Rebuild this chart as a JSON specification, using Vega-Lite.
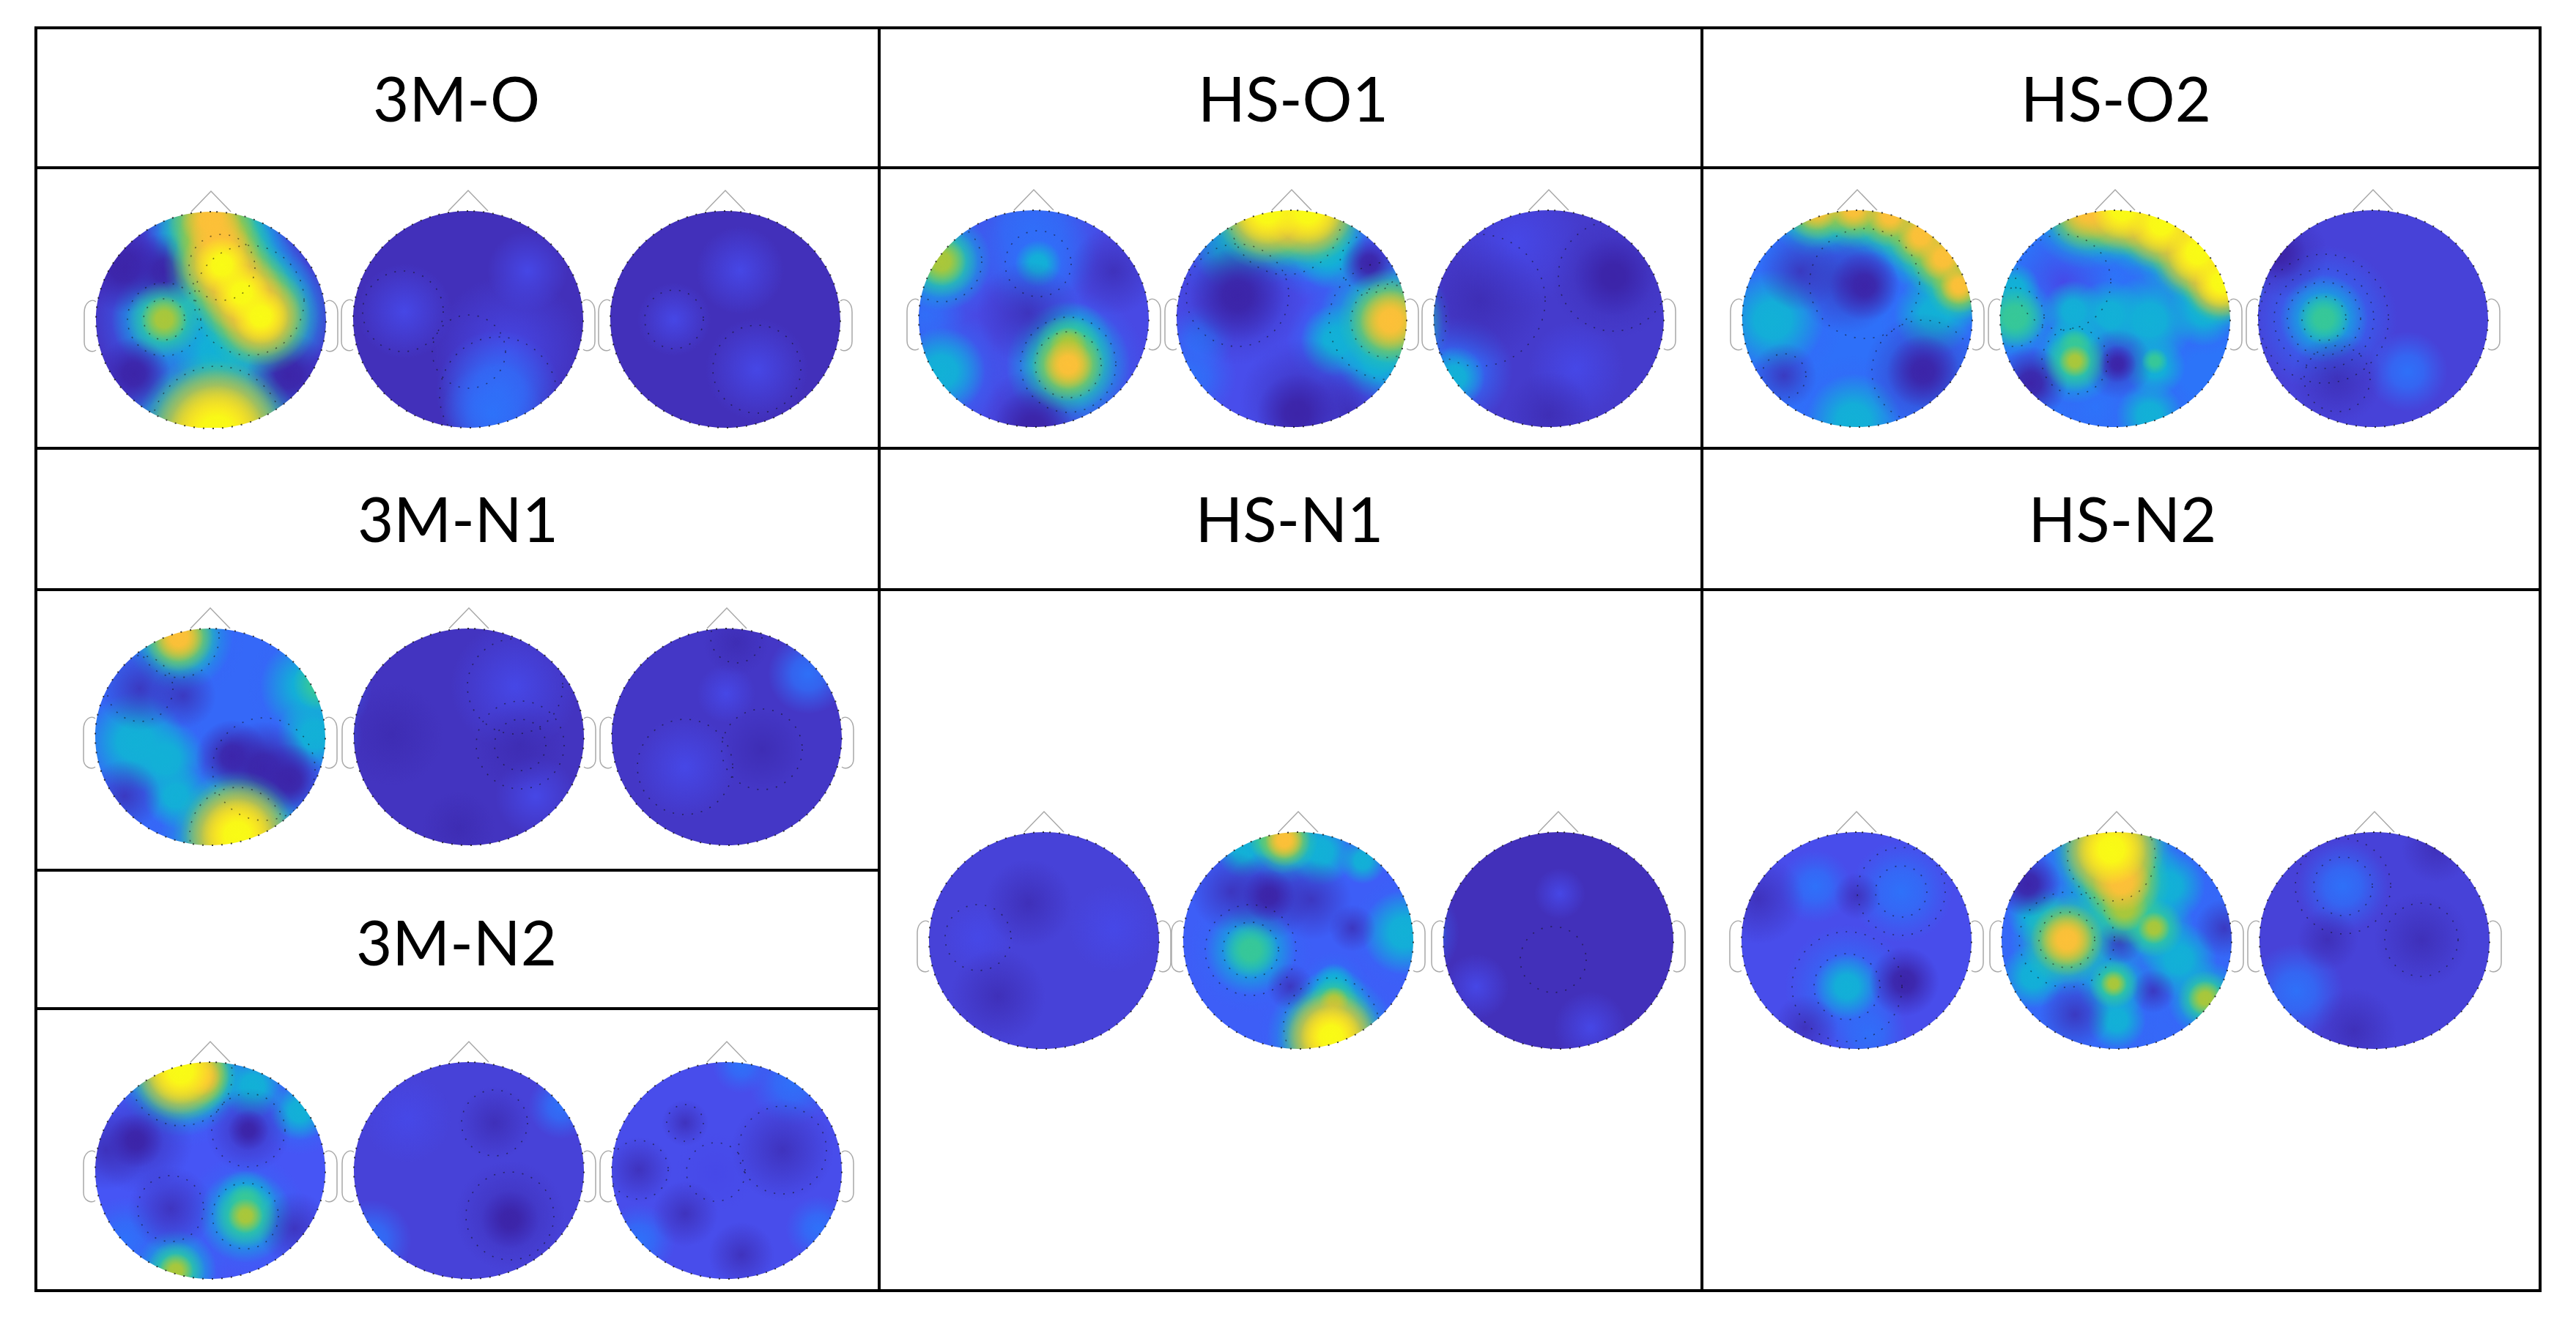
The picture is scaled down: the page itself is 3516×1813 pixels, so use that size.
{"$schema":"https://vega.github.io/schema/vega-lite/v6.json","width":3516,"height":1813,"autosize":{"type":"fit","contains":"padding"},"padding":0,"background":"white","config":{"view":{"stroke":null}},
"datasets":{
"heads":[{"h":1,"x":288,"y":437,"b":0.05},{"h":2,"x":639,"y":436,"b":0.03},{"h":3,"x":990,"y":436,"b":0.03},{"h":4,"x":1411,"y":435,"b":0.1},{"h":5,"x":1763,"y":435,"b":0.11},{"h":6,"x":2114,"y":435,"b":0.06},{"h":7,"x":2535,"y":435,"b":0.19},{"h":8,"x":2887,"y":435,"b":0.2},{"h":9,"x":3239,"y":435,"b":0.08},{"h":10,"x":287,"y":1006,"b":0.17},{"h":11,"x":640,"y":1006,"b":0.04},{"h":12,"x":992,"y":1006,"b":0.05},{"h":13,"x":287,"y":1598,"b":0.13},{"h":14,"x":640,"y":1598,"b":0.08},{"h":15,"x":992,"y":1598,"b":0.11},{"h":16,"x":1425,"y":1284,"b":0.08},{"h":17,"x":1772,"y":1284,"b":0.15},{"h":18,"x":2127,"y":1284,"b":0.03},{"h":19,"x":2534,"y":1284,"b":0.11},{"h":20,"x":2889,"y":1284,"b":0.17},{"h":21,"x":3241,"y":1284,"b":0.08}],
"blobs":[
{"k":"Y","x":303,"y":362,"r":38},{"k":"O","x":303,"y":362,"r":56},{"k":"L","x":303,"y":362,"r":68},{"k":"G","x":303,"y":362,"r":80},{"k":"T","x":303,"y":362,"r":98},{"k":"B","x":303,"y":362,"r":112},
{"k":"Y","x":330,"y":400,"r":38},{"k":"O","x":330,"y":400,"r":56},{"k":"L","x":330,"y":400,"r":68},{"k":"G","x":330,"y":400,"r":80},{"k":"T","x":330,"y":400,"r":98},{"k":"B","x":330,"y":400,"r":112},
{"k":"Y","x":356,"y":432,"r":38},{"k":"O","x":356,"y":432,"r":56},{"k":"L","x":356,"y":432,"r":68},{"k":"G","x":356,"y":432,"r":80},{"k":"T","x":356,"y":432,"r":95},{"k":"B","x":356,"y":432,"r":110},
{"k":"O","x":288,"y":300,"r":42},{"k":"L","x":288,"y":300,"r":60},{"k":"G","x":288,"y":300,"r":74},{"k":"T","x":288,"y":300,"r":92},{"k":"B","x":288,"y":300,"r":110},
{"k":"O","x":298,"y":330,"r":42},{"k":"L","x":298,"y":330,"r":58},{"k":"G","x":298,"y":330,"r":72},{"k":"T","x":298,"y":330,"r":88},{"k":"B","x":298,"y":330,"r":105},
{"k":"Y","x":296,"y":592,"r":66},{"k":"O","x":296,"y":592,"r":88},{"k":"L","x":296,"y":592,"r":100},{"k":"G","x":296,"y":592,"r":112},{"k":"T","x":296,"y":592,"r":135},{"k":"B","x":296,"y":592,"r":155},
{"k":"T","x":296,"y":480,"r":60},{"k":"B","x":296,"y":480,"r":90},{"k":"B","x":281,"y":440,"r":60},
{"k":"L","x":224,"y":436,"r":32},{"k":"G","x":224,"y":436,"r":52},{"k":"T","x":224,"y":436,"r":72},{"k":"B","x":224,"y":436,"r":95},
{"k":"D","x":170,"y":365,"r":62},{"k":"D","x":225,"y":370,"r":52},{"k":"D","x":183,"y":510,"r":50},{"k":"D","x":394,"y":512,"r":58},
{"k":"I","x":695,"y":481,"r":105},{"k":"I","x":552,"y":425,"r":65},{"k":"I","x":720,"y":370,"r":55},{"k":"B","x":680,"y":535,"r":85},{"k":"B","x":672,"y":565,"r":70},
{"k":"I","x":1033,"y":504,"r":70},{"k":"I","x":1010,"y":369,"r":60},{"k":"I","x":920,"y":436,"r":50},
{"k":"W","x":1410,"y":573,"r":70},{"k":"D","x":1410,"y":585,"r":55},{"k":"W","x":1520,"y":370,"r":60},{"k":"W","x":1403,"y":427,"r":70},{"k":"B","x":1410,"y":313,"r":100},{"k":"B","x":1263,"y":430,"r":55},{"k":"T","x":1417,"y":360,"r":32},{"k":"B","x":1417,"y":360,"r":80},
{"k":"T","x":1285,"y":507,"r":60},{"k":"B","x":1285,"y":507,"r":90},
{"k":"L","x":1285,"y":357,"r":34},{"k":"G","x":1285,"y":357,"r":50},{"k":"T","x":1285,"y":357,"r":68},{"k":"B","x":1285,"y":357,"r":88},
{"k":"O","x":1458,"y":498,"r":34},{"k":"L","x":1458,"y":498,"r":50},{"k":"G","x":1458,"y":498,"r":66},{"k":"T","x":1458,"y":498,"r":85},{"k":"B","x":1458,"y":498,"r":105},
{"k":"L","x":1458,"y":472,"r":26},{"k":"G","x":1458,"y":472,"r":44},{"k":"T","x":1458,"y":472,"r":62},
{"k":"Y","x":1730,"y":288,"r":46},{"k":"O","x":1730,"y":288,"r":62},{"k":"L","x":1730,"y":288,"r":72},{"k":"G","x":1730,"y":288,"r":82},{"k":"T","x":1730,"y":288,"r":98},{"k":"B","x":1730,"y":288,"r":115},
{"k":"Y","x":1785,"y":288,"r":46},{"k":"O","x":1785,"y":288,"r":62},{"k":"L","x":1785,"y":288,"r":72},{"k":"G","x":1785,"y":288,"r":82},{"k":"T","x":1785,"y":288,"r":98},{"k":"B","x":1785,"y":288,"r":115},
{"k":"T","x":1815,"y":345,"r":50},{"k":"B","x":1815,"y":345,"r":75},{"k":"T","x":1680,"y":345,"r":50},{"k":"B","x":1680,"y":345,"r":75},
{"k":"O","x":1898,"y":438,"r":42},{"k":"L","x":1898,"y":438,"r":58},{"k":"G","x":1898,"y":438,"r":72},{"k":"T","x":1890,"y":438,"r":90},{"k":"B","x":1880,"y":438,"r":102},
{"k":"T","x":1825,"y":465,"r":50},{"k":"B","x":1825,"y":465,"r":70},{"k":"T","x":1880,"y":490,"r":55},{"k":"B","x":1880,"y":490,"r":70},{"k":"B","x":1623,"y":513,"r":65},{"k":"B","x":1640,"y":460,"r":45},
{"k":"W","x":1689,"y":403,"r":95},{"k":"D","x":1689,"y":403,"r":65},{"k":"D","x":1869,"y":360,"r":38},{"k":"W","x":1777,"y":547,"r":85},{"k":"W","x":1840,"y":560,"r":60},{"k":"D","x":1770,"y":565,"r":55},
{"k":"W","x":2202,"y":377,"r":85},{"k":"W","x":2019,"y":410,"r":85},{"k":"D","x":2202,"y":377,"r":55},{"k":"W","x":2114,"y":567,"r":60},{"k":"I","x":2070,"y":330,"r":90},{"k":"I","x":2151,"y":503,"r":65},{"k":"B","x":1990,"y":507,"r":75},{"k":"T","x":1985,"y":515,"r":42},
{"k":"D","x":2545,"y":390,"r":48},{"k":"W","x":2520,"y":385,"r":70},{"k":"W","x":2457,"y":370,"r":55},{"k":"W","x":2625,"y":507,"r":80},{"k":"D","x":2625,"y":507,"r":50},{"k":"W","x":2435,"y":513,"r":45},
{"k":"T","x":2420,"y":437,"r":70},{"k":"B","x":2420,"y":437,"r":95},{"k":"T","x":2640,"y":430,"r":55},{"k":"B","x":2640,"y":430,"r":75},{"k":"T","x":2530,"y":575,"r":65},{"k":"B","x":2530,"y":575,"r":90},
{"k":"O","x":2480,"y":283,"r":32},{"k":"L","x":2480,"y":283,"r":45},{"k":"G","x":2480,"y":283,"r":57},{"k":"T","x":2480,"y":283,"r":70},{"k":"B","x":2480,"y":283,"r":85},
{"k":"O","x":2530,"y":283,"r":32},{"k":"L","x":2530,"y":283,"r":45},{"k":"G","x":2530,"y":283,"r":57},{"k":"T","x":2530,"y":283,"r":70},{"k":"B","x":2530,"y":283,"r":85},
{"k":"O","x":2580,"y":293,"r":32},{"k":"L","x":2580,"y":293,"r":45},{"k":"G","x":2580,"y":293,"r":57},{"k":"T","x":2580,"y":293,"r":70},{"k":"B","x":2580,"y":293,"r":85},
{"k":"O","x":2622,"y":322,"r":32},{"k":"L","x":2622,"y":322,"r":45},{"k":"G","x":2622,"y":322,"r":57},{"k":"T","x":2622,"y":322,"r":70},{"k":"B","x":2622,"y":322,"r":85},
{"k":"O","x":2652,"y":352,"r":32},{"k":"L","x":2652,"y":352,"r":45},{"k":"G","x":2652,"y":352,"r":57},{"k":"T","x":2652,"y":352,"r":70},{"k":"B","x":2652,"y":352,"r":80},
{"k":"O","x":2674,"y":390,"r":26},{"k":"L","x":2674,"y":390,"r":38},{"k":"G","x":2674,"y":390,"r":47},{"k":"T","x":2674,"y":390,"r":58},{"k":"B","x":2670,"y":390,"r":65},
{"k":"O","x":2850,"y":285,"r":44},{"k":"L","x":2850,"y":285,"r":58},{"k":"G","x":2850,"y":285,"r":68},{"k":"T","x":2850,"y":285,"r":83},{"k":"B","x":2850,"y":285,"r":95},
{"k":"Y","x":2897,"y":285,"r":42},{"k":"O","x":2897,"y":285,"r":56},{"k":"L","x":2897,"y":285,"r":64},{"k":"G","x":2897,"y":285,"r":70},{"k":"T","x":2897,"y":285,"r":84},{"k":"B","x":2897,"y":285,"r":95},
{"k":"Y","x":2950,"y":305,"r":42},{"k":"O","x":2950,"y":305,"r":56},{"k":"L","x":2950,"y":305,"r":64},{"k":"G","x":2950,"y":305,"r":70},{"k":"T","x":2950,"y":305,"r":84},{"k":"B","x":2950,"y":305,"r":95},
{"k":"Y","x":3000,"y":345,"r":42},{"k":"O","x":3000,"y":345,"r":56},{"k":"L","x":3000,"y":345,"r":64},{"k":"G","x":3000,"y":345,"r":70},{"k":"T","x":3000,"y":345,"r":84},{"k":"B","x":3000,"y":345,"r":95},
{"k":"Y","x":3032,"y":385,"r":36},{"k":"O","x":3032,"y":385,"r":48},{"k":"L","x":3032,"y":385,"r":54},{"k":"G","x":3032,"y":385,"r":60},{"k":"T","x":3025,"y":385,"r":68},{"k":"B","x":3020,"y":385,"r":75},
{"k":"G","x":2750,"y":433,"r":42},{"k":"T","x":2750,"y":433,"r":55},{"k":"B","x":2750,"y":433,"r":70},{"k":"L","x":2832,"y":493,"r":22},{"k":"G","x":2832,"y":493,"r":42},{"k":"T","x":2832,"y":493,"r":58},{"k":"B","x":2832,"y":493,"r":72},{"k":"G","x":2832,"y":470,"r":22},{"k":"T","x":2832,"y":470,"r":42},
{"k":"T","x":2934,"y":437,"r":62},{"k":"B","x":2934,"y":437,"r":80},{"k":"T","x":3007,"y":425,"r":48},{"k":"B","x":3007,"y":425,"r":60},{"k":"T","x":2830,"y":425,"r":42},{"k":"T","x":2941,"y":500,"r":42},{"k":"G","x":2941,"y":493,"r":18},{"k":"T","x":2934,"y":567,"r":46},{"k":"B","x":2934,"y":567,"r":65},{"k":"T","x":2750,"y":393,"r":34},{"k":"T","x":2880,"y":430,"r":48},{"k":"B","x":2860,"y":555,"r":60},
{"k":"W","x":2890,"y":497,"r":48},{"k":"D","x":2890,"y":497,"r":26},{"k":"D","x":2772,"y":523,"r":50},{"k":"I","x":2816,"y":385,"r":70},
{"k":"W","x":3190,"y":517,"r":62},{"k":"W","x":3117,"y":347,"r":60},{"k":"D","x":3110,"y":345,"r":38},{"k":"B","x":3286,"y":507,"r":55},{"k":"G","x":3172,"y":435,"r":36},{"k":"T","x":3172,"y":435,"r":60},{"k":"B","x":3172,"y":435,"r":100},
{"k":"D","x":317,"y":1033,"r":50},{"k":"D","x":360,"y":1050,"r":65},{"k":"D","x":395,"y":1065,"r":50},{"k":"W","x":191,"y":940,"r":58},{"k":"W","x":250,"y":950,"r":45},{"k":"W","x":170,"y":1087,"r":50},
{"k":"T","x":184,"y":1013,"r":68},{"k":"B","x":184,"y":1013,"r":90},{"k":"T","x":226,"y":1037,"r":55},{"k":"B","x":226,"y":1037,"r":70},{"k":"T","x":240,"y":1087,"r":44},{"k":"B","x":240,"y":1087,"r":60},{"k":"T","x":423,"y":937,"r":68},{"k":"B","x":423,"y":937,"r":85},{"k":"T","x":430,"y":1003,"r":52},{"k":"B","x":430,"y":1003,"r":65},{"k":"G","x":438,"y":933,"r":38},
{"k":"O","x":244,"y":870,"r":34},{"k":"L","x":244,"y":870,"r":47},{"k":"G","x":244,"y":870,"r":58},{"k":"T","x":244,"y":870,"r":74},{"k":"B","x":244,"y":870,"r":90},
{"k":"Y","x":324,"y":1140,"r":50},{"k":"O","x":324,"y":1140,"r":70},{"k":"L","x":324,"y":1140,"r":78},{"k":"G","x":324,"y":1140,"r":88},{"k":"T","x":324,"y":1140,"r":105},{"k":"B","x":324,"y":1140,"r":120},
{"k":"W","x":710,"y":1017,"r":60},{"k":"W","x":535,"y":1003,"r":70},{"k":"W","x":626,"y":1130,"r":50},{"k":"I","x":703,"y":937,"r":88},{"k":"I","x":731,"y":1087,"r":55},
{"k":"W","x":1040,"y":1023,"r":55},{"k":"W","x":1005,"y":877,"r":45},{"k":"I","x":935,"y":1047,"r":70},{"k":"I","x":991,"y":947,"r":40},{"k":"B","x":1103,"y":920,"r":55},
{"k":"Y","x":247,"y":1462,"r":46},{"k":"O","x":247,"y":1462,"r":60},{"k":"L","x":247,"y":1462,"r":68},{"k":"G","x":247,"y":1462,"r":76},{"k":"T","x":247,"y":1462,"r":90},{"k":"B","x":247,"y":1462,"r":105},
{"k":"O","x":275,"y":1470,"r":26},{"k":"L","x":275,"y":1470,"r":38},{"k":"G","x":275,"y":1470,"r":47},{"k":"T","x":275,"y":1470,"r":58},{"k":"B","x":275,"y":1470,"r":72},
{"k":"T","x":409,"y":1517,"r":40},{"k":"B","x":409,"y":1517,"r":60},{"k":"T","x":345,"y":1483,"r":44},{"k":"B","x":345,"y":1483,"r":60},
{"k":"L","x":335,"y":1660,"r":24},{"k":"G","x":335,"y":1660,"r":44},{"k":"T","x":335,"y":1660,"r":64},{"k":"B","x":335,"y":1660,"r":85},{"k":"G","x":335,"y":1640,"r":24},{"k":"T","x":335,"y":1640,"r":42},
{"k":"L","x":240,"y":1735,"r":24},{"k":"G","x":240,"y":1735,"r":40},{"k":"T","x":240,"y":1735,"r":56},{"k":"B","x":240,"y":1735,"r":72},{"k":"B","x":170,"y":1693,"r":60},
{"k":"W","x":191,"y":1557,"r":72},{"k":"W","x":145,"y":1570,"r":55},{"k":"D","x":185,"y":1557,"r":38},{"k":"W","x":339,"y":1543,"r":58},{"k":"D","x":339,"y":1543,"r":28},{"k":"W","x":233,"y":1650,"r":58},{"k":"W","x":402,"y":1677,"r":50},
{"k":"W","x":696,"y":1660,"r":75},{"k":"D","x":696,"y":1665,"r":40},{"k":"W","x":675,"y":1533,"r":50},{"k":"I","x":556,"y":1527,"r":60},{"k":"B","x":766,"y":1510,"r":45},{"k":"B","x":507,"y":1693,"r":55},
{"k":"W","x":1068,"y":1570,"r":70},{"k":"W","x":872,"y":1597,"r":45},{"k":"W","x":935,"y":1533,"r":32},{"k":"W","x":935,"y":1657,"r":45},{"k":"W","x":1012,"y":1713,"r":45},{"k":"I","x":977,"y":1600,"r":55},{"k":"B","x":1082,"y":1477,"r":60},{"k":"B","x":872,"y":1693,"r":50},{"k":"B","x":1117,"y":1677,"r":45},{"k":"B","x":1012,"y":1453,"r":40},
{"k":"W","x":1404,"y":1233,"r":60},{"k":"W","x":1362,"y":1360,"r":65},{"k":"I","x":1335,"y":1280,"r":50},{"k":"I","x":1520,"y":1267,"r":60},
{"k":"O","x":1753,"y":1147,"r":26},{"k":"L","x":1753,"y":1147,"r":36},{"k":"G","x":1753,"y":1147,"r":46},{"k":"T","x":1753,"y":1147,"r":60},{"k":"B","x":1753,"y":1147,"r":75},
{"k":"G","x":1730,"y":1145,"r":28},{"k":"T","x":1803,"y":1163,"r":46},{"k":"B","x":1803,"y":1163,"r":60},{"k":"T","x":1697,"y":1163,"r":36},{"k":"B","x":1697,"y":1163,"r":50},{"k":"T","x":1860,"y":1175,"r":32},
{"k":"Y","x":1817,"y":1415,"r":42},{"k":"O","x":1817,"y":1415,"r":60},{"k":"L","x":1817,"y":1415,"r":68},{"k":"G","x":1817,"y":1415,"r":74},{"k":"T","x":1817,"y":1415,"r":88},{"k":"B","x":1817,"y":1415,"r":100},
{"k":"L","x":1821,"y":1367,"r":20},{"k":"G","x":1821,"y":1367,"r":33},{"k":"T","x":1821,"y":1367,"r":48},{"k":"B","x":1821,"y":1367,"r":60},{"k":"T","x":1821,"y":1343,"r":28},{"k":"B","x":1821,"y":1343,"r":45},
{"k":"G","x":1707,"y":1297,"r":38},{"k":"T","x":1707,"y":1297,"r":62},{"k":"B","x":1707,"y":1297,"r":85},{"k":"T","x":1917,"y":1273,"r":58},{"k":"B","x":1917,"y":1273,"r":75},
{"k":"W","x":1732,"y":1223,"r":60},{"k":"D","x":1732,"y":1223,"r":36},{"k":"W","x":1680,"y":1217,"r":55},{"k":"W","x":1790,"y":1228,"r":55},{"k":"W","x":1846,"y":1267,"r":32},{"k":"W","x":1761,"y":1347,"r":32},
{"k":"I","x":2171,"y":1403,"r":50},{"k":"I","x":2015,"y":1347,"r":45},{"k":"I","x":2129,"y":1220,"r":35},
{"k":"D","x":2599,"y":1340,"r":48},{"k":"W","x":2400,"y":1227,"r":62},{"k":"W","x":2464,"y":1403,"r":45},{"k":"W","x":2535,"y":1223,"r":32},{"k":"B","x":2595,"y":1217,"r":70},{"k":"B","x":2478,"y":1210,"r":50},{"k":"B","x":2549,"y":1410,"r":55},{"k":"T","x":2521,"y":1347,"r":45},{"k":"B","x":2521,"y":1347,"r":85},
{"k":"Y","x":2882,"y":1160,"r":48},{"k":"O","x":2882,"y":1160,"r":64},{"k":"L","x":2882,"y":1160,"r":72},{"k":"G","x":2882,"y":1160,"r":80},{"k":"T","x":2882,"y":1160,"r":96},{"k":"B","x":2882,"y":1160,"r":110},
{"k":"O","x":2896,"y":1205,"r":40},{"k":"L","x":2896,"y":1205,"r":54},{"k":"G","x":2896,"y":1205,"r":66},{"k":"T","x":2896,"y":1205,"r":82},{"k":"B","x":2896,"y":1205,"r":100},
{"k":"L","x":2900,"y":1240,"r":32},{"k":"G","x":2900,"y":1240,"r":50},{"k":"T","x":2900,"y":1240,"r":66},{"k":"B","x":2900,"y":1240,"r":80},{"k":"L","x":2940,"y":1267,"r":22},{"k":"G","x":2940,"y":1267,"r":40},{"k":"T","x":2940,"y":1267,"r":55},{"k":"B","x":2940,"y":1267,"r":65},
{"k":"O","x":2821,"y":1283,"r":36},{"k":"L","x":2821,"y":1283,"r":50},{"k":"G","x":2821,"y":1283,"r":62},{"k":"T","x":2821,"y":1283,"r":78},{"k":"B","x":2821,"y":1283,"r":95},
{"k":"L","x":2885,"y":1343,"r":18},{"k":"G","x":2885,"y":1343,"r":34},{"k":"T","x":2885,"y":1343,"r":50},{"k":"B","x":2885,"y":1343,"r":62},{"k":"L","x":3010,"y":1363,"r":24},{"k":"G","x":3010,"y":1363,"r":38},{"k":"T","x":3010,"y":1363,"r":52},{"k":"B","x":3010,"y":1363,"r":65},
{"k":"T","x":2775,"y":1333,"r":44},{"k":"B","x":2775,"y":1333,"r":65},{"k":"T","x":2974,"y":1310,"r":52},{"k":"B","x":2974,"y":1310,"r":72},{"k":"T","x":2889,"y":1393,"r":40},{"k":"B","x":2889,"y":1393,"r":60},{"k":"T","x":2960,"y":1210,"r":50},{"k":"B","x":2960,"y":1210,"r":75},{"k":"T","x":2780,"y":1250,"r":40},
{"k":"D","x":2768,"y":1207,"r":45},{"k":"W","x":2832,"y":1385,"r":48},{"k":"W","x":2939,"y":1353,"r":30},{"k":"W","x":3036,"y":1267,"r":40},{"k":"W","x":2893,"y":1285,"r":32},
{"k":"W","x":3305,"y":1283,"r":65},{"k":"W","x":3177,"y":1283,"r":42},{"k":"W","x":3213,"y":1407,"r":58},{"k":"W","x":3326,"y":1157,"r":48},{"k":"B","x":3198,"y":1210,"r":62},{"k":"B","x":3134,"y":1353,"r":65}
],
"rings":[{"x":224,"y":436,"r":50},{"x":224,"y":436,"r":28},{"x":303,"y":365,"r":45},{"x":296,"y":590,"r":90},{"x":340,"y":410,"r":75},{"x":680,"y":540,"r":80},{"x":550,"y":425,"r":55},{"x":640,"y":480,"r":50},{"x":920,"y":436,"r":40},{"x":1033,"y":504,"r":60},{"x":1458,"y":498,"r":45},{"x":1458,"y":498,"r":65},{"x":1417,"y":360,"r":45},{"x":1285,"y":357,"r":55},{"x":1755,"y":300,"r":75},{"x":1894,"y":438,"r":50},{"x":1894,"y":438,"r":80},{"x":1689,"y":403,"r":70},{"x":1869,"y":360,"r":40},{"x":2202,"y":377,"r":75},{"x":2019,"y":410,"r":90},{"x":2545,"y":387,"r":75},{"x":2625,"y":507,"r":70},{"x":2435,"y":513,"r":30},{"x":2832,"y":493,"r":45},{"x":2750,"y":433,"r":40},{"x":2816,"y":385,"r":65},{"x":3172,"y":435,"r":30},{"x":3172,"y":435,"r":50},{"x":3172,"y":435,"r":68},{"x":3172,"y":435,"r":88},{"x":3190,"y":517,"r":45},{"x":360,"y":1050,"r":70},{"x":244,"y":870,"r":55},{"x":324,"y":1140,"r":65},{"x":191,"y":940,"r":45},{"x":703,"y":937,"r":65},{"x":710,"y":1017,"r":35},{"x":710,"y":1017,"r":60},{"x":1040,"y":1023,"r":55},{"x":935,"y":1047,"r":65},{"x":1005,"y":870,"r":35},{"x":335,"y":1660,"r":45},{"x":233,"y":1650,"r":45},{"x":339,"y":1543,"r":50},{"x":247,"y":1467,"r":70},{"x":696,"y":1660,"r":60},{"x":675,"y":1533,"r":45},{"x":1068,"y":1570,"r":60},{"x":977,"y":1600,"r":40},{"x":935,"y":1533,"r":25},{"x":872,"y":1597,"r":40},{"x":1335,"y":1280,"r":45},{"x":1707,"y":1297,"r":38},{"x":1707,"y":1297,"r":62},{"x":1817,"y":1400,"r":65},{"x":2120,"y":1310,"r":45},{"x":2595,"y":1217,"r":35},{"x":2595,"y":1217,"r":60},{"x":2521,"y":1347,"r":45},{"x":2521,"y":1347,"r":75},{"x":2821,"y":1283,"r":38},{"x":2821,"y":1283,"r":65},{"x":2882,"y":1170,"r":60},{"x":3198,"y":1210,"r":40},{"x":3198,"y":1210,"r":65},{"x":3305,"y":1283,"r":50}],
"wipes":[{"x":0,"x2":1200,"y":0,"y2":287},{"x":1200,"x2":3516,"y":0,"y2":287},{"x":0,"x2":1200,"y":584,"y2":858},{"x":0,"x2":1200,"y":1154,"y2":1449},{"x":0,"x2":1200,"y":1746,"y2":1813},{"x":1200,"x2":3516,"y":584,"y2":1136},{"x":1200,"x2":3516,"y":1432,"y2":1813},{"x":0,"x2":130,"y":0,"y2":1813},{"x":1150,"x2":1253,"y":0,"y2":1813},{"x":2292,"x2":2377,"y":0,"y2":1813},{"x":3408,"x2":3516,"y":0,"y2":1813}],
"lines":[{"x":49,"x2":3467,"y":38,"y2":38},{"x":49,"x2":3467,"y":229,"y2":229},{"x":49,"x2":3467,"y":612,"y2":612},{"x":49,"x2":3467,"y":805,"y2":805},{"x":49,"x2":1200,"y":1188,"y2":1188},{"x":49,"x2":1200,"y":1377,"y2":1377},{"x":49,"x2":3467,"y":1762,"y2":1762},{"x":49,"x2":49,"y":38,"y2":1762},{"x":1200,"x2":1200,"y":38,"y2":1762},{"x":2323,"x2":2323,"y":38,"y2":1762},{"x":3467,"x2":3467,"y":38,"y2":1762}],
"titles":[{"t":"3M-O","x":623,"y":140},{"t":"HS-O1","x":1765,"y":140},{"t":"HS-O2","x":2888,"y":140},{"t":"3M-N1","x":625,"y":714},{"t":"HS-N1","x":1760,"y":714},{"t":"HS-N2","x":2897,"y":714},{"t":"3M-N2","x":623,"y":1292}]
},
"encoding":{"x":{"field":"x","type":"quantitative","scale":{"domain":[0,3516]},"axis":null},"y":{"field":"y","type":"quantitative","scale":{"domain":[0,1813],"reverse":true},"axis":null}},
"layer":[
{"data":{"name":"heads"},"mark":{"type":"point","filled":true,"opacity":1,"size":115600},"encoding":{"color":{"field":"b","type":"quantitative","legend":null,"scale":{"domain":[0,0.125,0.25,0.375,0.5,0.625,0.75,1],"range":["#3e26a8","#4852f4","#2d87f7","#12b1d6","#37c897","#abc739","#fdc038","#f9fb15"]}}}},
{"data":{"name":"blobs"},"encoding":{"size":{"field":"r","type":"quantitative","legend":null,"scale":{"type":"pow","exponent":2,"domain":[0,200],"range":[0,160000]}}},"layer":[
{"transform":[{"filter":"datum.k=='I'"}],"mark":{"type":"point","filled":true,"opacity":1,"fill":{"gradient":"radial","x1":0.5,"y1":0.5,"r1":0,"x2":0.5,"y2":0.5,"r2":0.5,"stops":[{"offset":0,"color":"rgba(70,72,232,0.95)"},{"offset":1,"color":"rgba(70,72,232,0)"}]}}},
{"transform":[{"filter":"datum.k=='B'"}],"mark":{"type":"point","filled":true,"opacity":1,"fill":{"gradient":"radial","x1":0.5,"y1":0.5,"r1":0,"x2":0.5,"y2":0.5,"r2":0.5,"stops":[{"offset":0,"color":"rgba(45,115,250,0.95)"},{"offset":0.4,"color":"rgba(48,110,248,0.8)"},{"offset":1,"color":"rgba(55,100,245,0)"}]}}},
{"transform":[{"filter":"datum.k=='T'"}],"mark":{"type":"point","filled":true,"opacity":1,"fill":{"gradient":"radial","x1":0.5,"y1":0.5,"r1":0,"x2":0.5,"y2":0.5,"r2":0.5,"stops":[{"offset":0,"color":"rgba(18,177,214,1)"},{"offset":0.35,"color":"rgba(18,177,214,0.95)"},{"offset":1,"color":"rgba(18,177,214,0)"}]}}},
{"transform":[{"filter":"datum.k=='W'"}],"mark":{"type":"point","filled":true,"opacity":1,"fill":{"gradient":"radial","x1":0.5,"y1":0.5,"r1":0,"x2":0.5,"y2":0.5,"r2":0.5,"stops":[{"offset":0,"color":"rgba(60,42,175,0.75)"},{"offset":1,"color":"rgba(60,42,175,0)"}]}}},
{"transform":[{"filter":"datum.k=='D'"}],"mark":{"type":"point","filled":true,"opacity":1,"fill":{"gradient":"radial","x1":0.5,"y1":0.5,"r1":0,"x2":0.5,"y2":0.5,"r2":0.5,"stops":[{"offset":0,"color":"rgba(60,36,168,1)"},{"offset":0.3,"color":"rgba(60,36,168,0.9)"},{"offset":1,"color":"rgba(60,40,180,0)"}]}}},
{"transform":[{"filter":"datum.k=='G'"}],"mark":{"type":"point","filled":true,"opacity":1,"fill":{"gradient":"radial","x1":0.5,"y1":0.5,"r1":0,"x2":0.5,"y2":0.5,"r2":0.5,"stops":[{"offset":0,"color":"rgba(55,200,151,1)"},{"offset":0.35,"color":"rgba(55,200,151,0.95)"},{"offset":1,"color":"rgba(55,200,151,0)"}]}}},
{"transform":[{"filter":"datum.k=='L'"}],"mark":{"type":"point","filled":true,"opacity":1,"fill":{"gradient":"radial","x1":0.5,"y1":0.5,"r1":0,"x2":0.5,"y2":0.5,"r2":0.5,"stops":[{"offset":0,"color":"rgba(171,199,57,1)"},{"offset":0.35,"color":"rgba(171,199,57,0.95)"},{"offset":1,"color":"rgba(171,199,57,0)"}]}}},
{"transform":[{"filter":"datum.k=='O'"}],"mark":{"type":"point","filled":true,"opacity":1,"fill":{"gradient":"radial","x1":0.5,"y1":0.5,"r1":0,"x2":0.5,"y2":0.5,"r2":0.5,"stops":[{"offset":0,"color":"rgba(253,192,56,1)"},{"offset":0.35,"color":"rgba(253,192,56,0.95)"},{"offset":1,"color":"rgba(253,192,56,0)"}]}}},
{"transform":[{"filter":"datum.k=='Y'"}],"mark":{"type":"point","filled":true,"opacity":1,"fill":{"gradient":"radial","x1":0.5,"y1":0.5,"r1":0,"x2":0.5,"y2":0.5,"r2":0.5,"stops":[{"offset":0,"color":"rgba(249,251,21,1)"},{"offset":0.35,"color":"rgba(249,251,21,0.95)"},{"offset":1,"color":"rgba(249,251,21,0)"}]}}}
]},
{"data":{"name":"rings"},"mark":{"type":"point","filled":false,"opacity":0.55,"stroke":"#111111","strokeWidth":1.6,"strokeDash":[2,11]},"encoding":{"size":{"field":"r","type":"quantitative","legend":null,"scale":{"type":"pow","exponent":2,"domain":[0,200],"range":[0,160000]}}}},
{"data":{"name":"heads"},"mark":{"type":"point","filled":true,"opacity":1,"fill":"white","stroke":null,"size":40000,"shape":"M-1.88,-1.9H1.88V1.9H-1.88Z M0,-1.48C-0.867,-1.48 -1.57,-0.817 -1.57,0C-1.57,0.817 -0.867,1.48 0,1.48C0.867,1.48 1.57,0.817 1.57,0C1.57,-0.817 0.867,-1.48 0,-1.48Z"}},
{"data":{"name":"wipes"},"mark":{"type":"rect","color":"white"},"encoding":{"x2":{"field":"x2"},"y2":{"field":"y2"}}},
{"data":{"name":"heads"},"mark":{"type":"point","filled":false,"opacity":1,"fill":null,"stroke":"#a8a8a8","strokeWidth":1.5,"size":40000,"shape":"M-0.27,-1.48L0,-1.76L0.27,-1.48M-1.57,-0.25C-1.62,-0.3 -1.73,-0.25 -1.73,-0.1V0.3C-1.73,0.42 -1.62,0.45 -1.57,0.41M1.57,-0.25C1.62,-0.3 1.73,-0.25 1.73,-0.1V0.3C1.73,0.42 1.62,0.45 1.57,0.41"}},
{"data":{"name":"heads"},"mark":{"type":"point","filled":false,"opacity":0.8,"fill":null,"stroke":"#111111","strokeWidth":2,"strokeDash":[2,11],"size":40000,"shape":"M0,-1.48C-0.867,-1.48 -1.57,-0.817 -1.57,0C-1.57,0.817 -0.867,1.48 0,1.48C0.867,1.48 1.57,0.817 1.57,0C1.57,-0.817 0.867,-1.48 0,-1.48Z"}},
{"data":{"name":"lines"},"mark":{"type":"rule","color":"black","strokeWidth":4,"strokeCap":"square"},"encoding":{"x2":{"field":"x2"},"y2":{"field":"y2"}}},
{"data":{"name":"titles"},"mark":{"type":"text","font":"Lato","fontSize":85,"color":"black","align":"center","baseline":"middle"},"encoding":{"text":{"field":"t","type":"nominal"}}}
]}
